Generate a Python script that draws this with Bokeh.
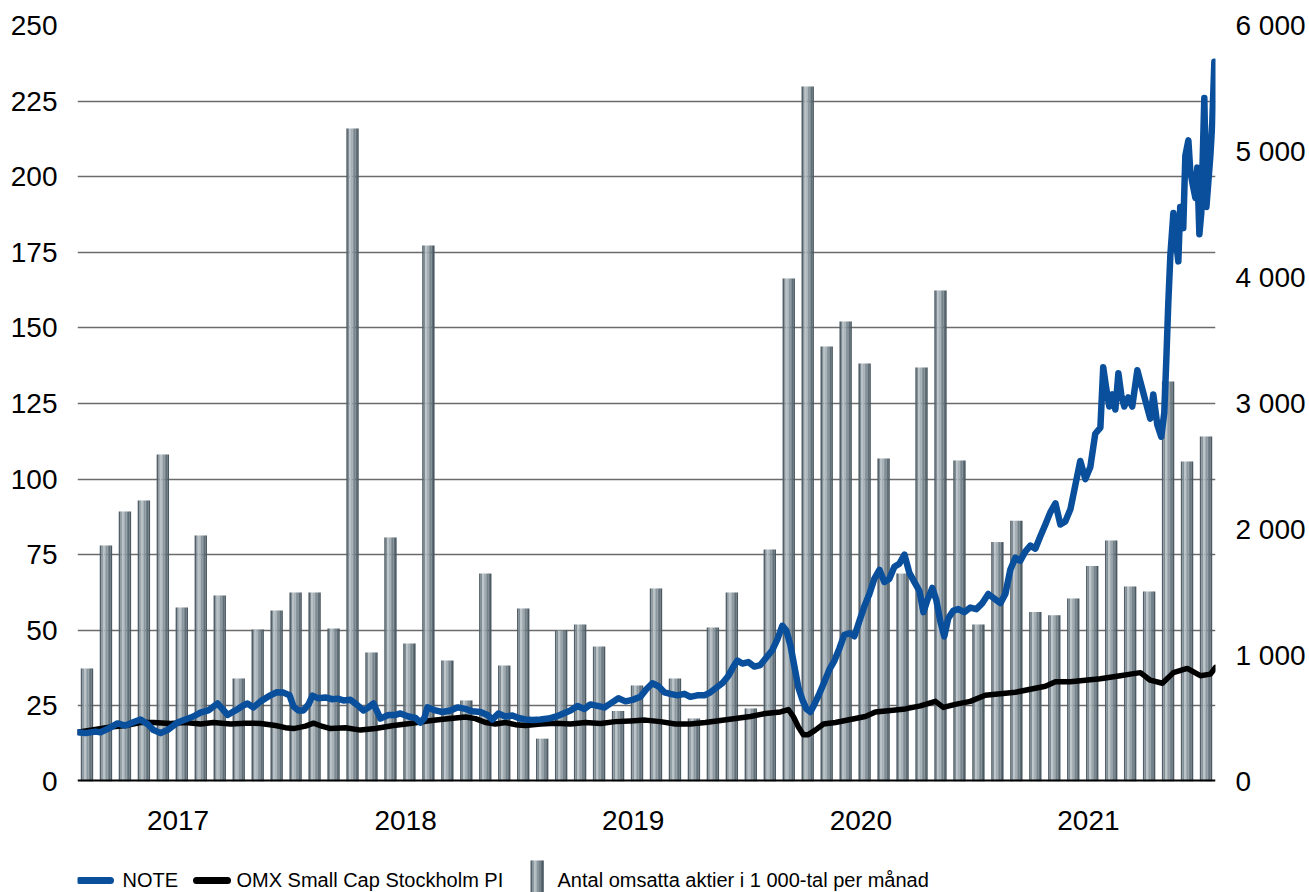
from bokeh.plotting import figure
from bokeh.models import Range1d, LinearAxis, FixedTicker, Span
from bokeh.layouts import column
from bokeh.embed import file_html
from bokeh.resources import INLINE
from bokeh.core.properties import value

# ---------------- data ----------------
years = ["2017", "2018", "2019", "2020", "2021"]
left_ticks = [0, 25, 50, 75, 100, 125, 150, 175, 200, 225, 250]
right_ticks = [0, 1000, 2000, 3000, 4000, 5000, 6000]
right_labels = ["0", "1 000", "2 000", "3 000", "4 000", "5 000", "6 000"]

# monthly traded shares (thousands), 60 months
volume = [897, 1873, 2143, 2230, 2595, 1381, 1952, 1476, 818, 1206, 1357, 1500,
          1500, 1214, 5183, 1024, 1937, 1095, 4254, 960, 643, 1650, 920, 1373,
          340, 1198, 1246, 1071, 560, 762, 1532, 817, 500, 1222, 1500, 580,
          1841, 3992, 5516, 3453, 3651, 3318, 2563, 1650, 3286, 3897, 2548, 1246,
          1900, 2070, 1345, 1320, 1452, 1710, 1913, 1548, 1508, 3175, 2540, 2738]

# NOTE share price: time in months from start of chart, value
note_t = [0.00, 0.42, 0.95, 1.21, 1.63, 2.11, 2.53, 2.90, 3.32, 3.69, 4.01, 4.38, 4.74,
          5.27, 5.69, 6.11, 6.48, 6.90, 7.38, 7.64, 7.91, 8.33, 8.70, 8.96, 9.28, 9.65,
          10.17, 10.49, 10.86, 11.18, 11.39, 11.65, 11.91, 12.18, 12.39, 12.70, 13.07,
          13.44, 13.71, 14.02, 14.39, 14.71, 15.08, 15.34, 15.60, 15.81, 15.97, 16.39,
          16.76, 17.03, 17.45, 17.82, 18.08, 18.29, 18.45, 18.87, 19.24, 19.66, 20.03,
          20.45, 20.82, 21.24, 21.61, 21.88, 22.19, 22.56, 22.93, 23.25, 23.62, 23.99,
          24.41, 24.83, 25.25, 25.62, 25.99, 26.36, 26.73, 27.04, 27.41, 27.78, 28.15,
          28.52, 28.89, 29.26, 29.68, 29.99, 30.31, 30.63, 30.94, 31.26, 31.63, 32.00,
          32.31, 32.68, 33.05, 33.37, 33.68, 34.00, 34.32, 34.58, 34.79, 35.05, 35.37,
          35.69, 36.00, 36.32, 36.64, 36.90, 37.16, 37.37, 37.59, 37.80, 38.01, 38.22,
          38.43, 38.64, 38.85, 39.11, 39.38, 39.64, 39.91, 40.17, 40.43, 40.70, 40.96,
          41.22, 41.49, 41.75, 42.01, 42.28, 42.54, 42.80, 43.07, 43.33, 43.60, 43.86,
          44.12, 44.39, 44.60, 44.81, 45.07, 45.28, 45.49, 45.70, 45.91, 46.18, 46.44,
          46.76, 47.07, 47.39, 47.71, 48.02, 48.34, 48.66, 48.92, 49.18, 49.45, 49.71,
          49.97, 50.24, 50.50, 50.76, 51.03, 51.29, 51.56, 51.82, 52.08, 52.35, 52.61,
          52.87, 53.14, 53.40, 53.66, 53.93, 54.08, 54.24, 54.40, 54.56, 54.72, 54.88,
          55.03, 55.19, 55.40, 55.61, 55.88, 56.09, 56.30, 56.56, 56.72, 56.93, 57.14,
          57.30, 57.41, 57.51, 57.62, 57.78, 57.93, 58.04, 58.14, 58.30, 58.41, 58.57,
          58.67, 58.78, 58.94, 59.04, 59.15, 59.25, 59.41, 59.52, 59.62, 59.73, 59.83,
          59.94, 60.00]
note_v = [16.3, 16.0, 16.5, 16.3, 17.5, 19.2, 18.5, 19.5, 20.5, 19.0, 17.0, 16.0, 17.0,
          19.5, 20.5, 21.5, 22.8, 23.5, 25.8, 24.0, 22.0, 23.5, 25.0, 25.8, 24.5, 26.5,
          28.5, 29.5, 29.4, 28.5, 24.8, 23.5, 23.5, 25.5, 28.4, 27.5, 27.8,
          27.2, 27.4, 26.8, 27.0, 25.5, 23.5, 24.5, 25.8, 23.0, 20.8, 22.0,
          22.0, 22.5, 21.5, 21.0, 19.5, 21.0, 24.5, 23.5, 23.0, 23.5, 24.5,
          24.0, 23.2, 23.0, 22.0, 20.5, 22.5, 21.5, 21.8, 21.0, 20.5, 20.3,
          20.5, 20.8, 21.5, 22.5, 23.5, 25.0, 24.0, 25.5, 25.0, 24.5, 26.0,
          27.5, 26.5, 27.0, 28.0, 30.5, 32.5, 31.5, 29.5, 29.0, 28.5, 29.0,
          28.0, 28.5, 28.5, 29.5, 31.0, 32.5, 35.0, 38.0, 40.0, 39.0, 39.5,
          38.0, 38.5, 41.0, 43.5, 47.0, 51.5, 50.0, 45.0, 38.0, 31.0, 27.0,
          24.0, 23.0, 25.5, 29.0, 33.0, 37.0, 40.0, 44.0, 48.5, 49.0, 48.0,
          53.0, 58.0, 62.0, 67.0, 70.0, 66.0, 67.0, 71.0, 72.0, 75.0, 69.0,
          66.0, 63.0, 56.0, 60.0, 64.0, 60.0, 53.0, 48.0, 54.0, 56.5, 57.0,
          56.0, 57.5, 57.0, 59.0, 62.0, 60.5, 59.0, 62.0, 70.0, 74.0, 73.0,
          76.0, 78.0, 77.0, 81.0, 85.0, 89.0, 92.0, 85.0, 86.0, 90.0, 98.0,
          106.0, 100.0, 104.0, 115.0, 117.0, 137.0, 130.0, 124.0, 128.0, 123.0, 135.0,
          128.0, 124.0, 127.0, 124.0, 136.0, 131.0, 126.0, 120.0, 128.0, 118.0, 114.0,
          122.0, 140.0, 158.0, 174.0, 188.0, 178.0, 172.0, 190.0, 183.0, 207.0, 212.0,
          202.0, 198.0, 193.0, 203.0, 181.0, 188.0, 226.0, 190.0, 198.0, 207.0, 218.0,
          238.0, 231.0]

# OMX Small Cap Stockholm PI (rebased)
omx_t = [0.00, 0.69, 1.74, 2.53, 3.32, 4.01, 4.90, 5.69, 6.48, 7.17, 8.07, 8.86, 9.65,
         10.44, 10.96, 11.39, 12.02, 12.44, 12.92, 13.34, 14.13, 14.92, 15.71, 16.66,
         17.55, 18.45, 19.14, 19.93, 20.45, 20.98, 21.51, 22.03, 22.56, 23.09, 23.62,
         24.41, 25.20, 25.99, 26.78, 27.57, 28.36, 29.15, 29.94, 30.73, 31.52, 32.31,
         33.10, 33.90, 34.69, 35.48, 36.27, 37.06, 37.48, 37.74, 38.01, 38.27, 38.53,
         38.90, 39.33, 39.96, 40.75, 41.54, 42.07, 42.86, 43.65, 44.44, 45.23, 45.65,
         46.28, 47.07, 47.86, 48.66, 49.45, 50.24, 51.03, 51.56, 52.35, 53.14, 53.93,
         54.45, 54.98, 55.51, 56.04, 56.56, 57.20, 57.78, 58.51, 59.20, 59.73, 60.00]
omx_v = [16.3, 17.0, 18.0, 18.5, 19.5, 19.5, 19.2, 19.5, 19.0, 19.5, 19.0, 19.3, 19.2,
         18.5, 17.8, 17.5, 18.3, 19.3, 18.2, 17.5, 17.8, 17.0, 17.5, 18.5,
         19.2, 20.0, 20.5, 21.0, 21.3, 20.8, 19.5, 19.0, 19.5, 18.8, 18.5,
         19.0, 19.3, 19.0, 19.5, 19.2, 19.8, 20.0, 20.3, 19.8, 19.0, 19.0,
         19.5, 20.2, 20.8, 21.5, 22.5, 23.0, 23.8, 21.5, 18.0, 15.5, 15.5,
         17.0, 19.0, 19.5, 20.5, 21.5, 23.0, 23.5, 24.0, 25.0, 26.5, 24.5,
         25.5, 26.5, 28.5, 29.0, 29.5, 30.5, 31.5, 33.0, 33.0, 33.5, 34.0,
         34.5, 35.0, 35.5, 36.0, 33.5, 32.5, 36.0, 37.4, 35.0, 35.5, 37.7]

legend_labels = ["NOTE", "OMX Small Cap Stockholm PI",
                 "Antal omsatta aktier i 1 000-tal per månad"]

# ---------------- style ----------------
W = 1309
BL, BR = 77, 94          # frame borders (left, right)
FONT = "Liberation Sans"
BLUE = "#0a4f9c"
GRID = "#6b6b6b"
BAR_STRIPS = ["#536069", "#808d95", "#b9c2c7", "#a5b0b6", "#8b979e",
              "#75838b", "#606e77", "#4b5962"]

p = figure(width=W, height=858, x_range=Range1d(0, 60), y_range=Range1d(0, 250),
           output_backend="svg", toolbar_location=None,
           min_border_left=BL, min_border_right=BR, min_border_top=25,
           min_border_bottom=77, outline_line_color=None,
           background_fill_color="white", border_fill_color="white")

p.extra_y_ranges = {"right": Range1d(0, 6000)}

# bars with cylinder-like shading, drawn as narrow strips
months = [i + 0.5 for i in range(len(volume))]
bw = 0.65
n = len(BAR_STRIPS)
sw = bw / n
for k, col in enumerate(BAR_STRIPS):
    off = -bw / 2 + sw * (k + 0.5)
    p.vbar(x=[m + off for m in months], width=sw * 1.04, top=volume, bottom=0,
           y_range_name="right", fill_color=col, line_color=None)

p.line(omx_t, omx_v, line_color="black", line_width=5.5, line_join="round", line_cap="round")
p.line(note_t, note_v, line_color=BLUE, line_width=6.5, line_join="round", line_cap="round")

p.add_layout(Span(location=0, dimension="width", line_color="black", line_width=4))

# axes
p.yaxis.ticker = FixedTicker(ticks=left_ticks)
p.ygrid.ticker = FixedTicker(ticks=left_ticks)
p.ygrid.grid_line_color = GRID
p.ygrid.grid_line_width = 1.5
p.xgrid.visible = False

year_pos = [5.3 + 12 * i for i in range(len(years))]
p.xaxis.ticker = FixedTicker(ticks=year_pos)
p.xaxis.major_label_overrides = {pos: lab for pos, lab in zip(year_pos, years)}

ra = LinearAxis(y_range_name="right", ticker=FixedTicker(ticks=right_ticks),
                major_label_overrides={t: l for t, l in zip(right_ticks, right_labels)})
p.add_layout(ra, "right")

for ax in [p.xaxis[0], p.yaxis[0], ra]:
    ax.axis_line_color = None
    ax.major_tick_line_color = None
    ax.minor_tick_line_color = None
    ax.major_tick_out = 0
    ax.major_tick_in = 0
    ax.minor_tick_out = 0
    ax.major_label_text_font = FONT
    ax.major_label_text_font_size = "28px"
    ax.major_label_text_color = "black"
p.yaxis[0].major_label_standoff = 20
ra.major_label_standoff = 20
p.xaxis[0].major_label_standoff = 29

# ---------------- legend strip (x in page pixels, same frame as chart) ----------------
LH = 34
lg = figure(width=W, height=LH, x_range=Range1d(BL, W - BR), y_range=Range1d(0, LH),
            output_backend="svg", toolbar_location=None,
            min_border_left=BL, min_border_right=BR, min_border_top=0, min_border_bottom=0,
            x_axis_type=None, y_axis_type=None, outline_line_color=None)
lg.grid.visible = False
ly = 12
lg.line([79, 110], [ly, ly], line_color=BLUE, line_width=7, line_cap="round")
lg.line([196, 227], [ly, ly], line_color="black", line_width=7, line_cap="round")
sx0, sx1 = 530, 543
ssw = (sx1 - sx0) / n
for k, col in enumerate(BAR_STRIPS):
    lg.quad(left=[sx0 + ssw * k], right=[sx0 + ssw * (k + 1) + 0.3], bottom=[0], top=[32],
            fill_color=col, line_color=None)
for x, lab in zip([122, 236, 557], legend_labels):
    lg.text(x=[x], y=[13], text=[lab], text_font=value(FONT), text_font_size="20px",
            text_baseline="middle", text_align="left", text_color="black")

layout = column(p, lg, spacing=0)
open("out.html", "w").write(file_html(layout, INLINE))
